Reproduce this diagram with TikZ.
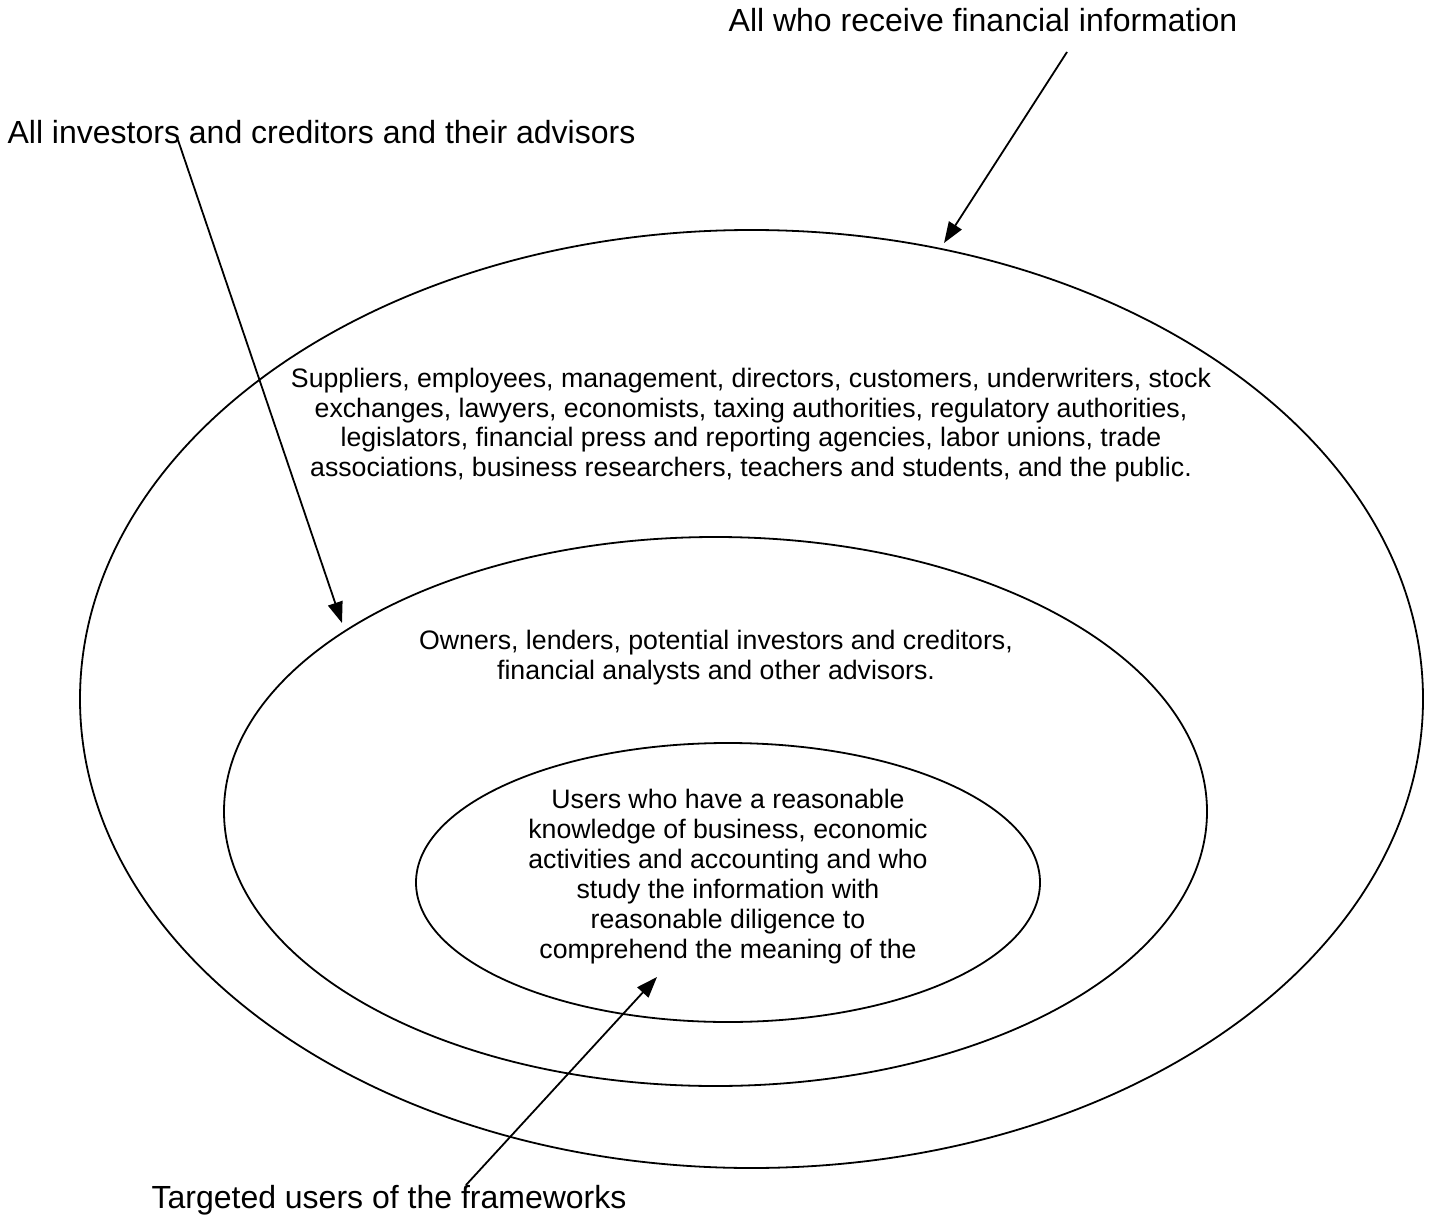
\documentclass[tikz,border=0pt]{standalone}
\usepackage{fontspec}
\setmainfont{Liberation Sans}
\usetikzlibrary{arrows.meta,shapes.geometric}
\begin{document}
\begin{tikzpicture}[x=1pt,y=-1pt,
  ring/.style={draw, ellipse, line width=1.8pt, inner sep=0pt},
  bodytext/.style={align=center, font=\fontsize{26.7}{29.5}\selectfont, inner sep=0pt},
  labeltext/.style={font=\fontsize{32}{38}\selectfont, inner sep=0pt, anchor=base},
  pointer/.style={draw, line width=1.8pt, -{Triangle[length=21pt,width=15pt]}}]
\useasboundingbox (0,0) rectangle (1429,1222);
\node[ring, minimum width=1343pt, minimum height=938pt] (outer) at (751.5,699) {};
\node[ring, minimum width=983pt, minimum height=549pt] (middle) at (715.5,811.5) {};
\node[ring, minimum width=624pt, minimum height=279pt] (inner) at (728,882.5) {};

\node[bodytext] (outertext) at (751,425) {Suppliers, employees, management, directors, customers, underwriters, stock\\
exchanges, lawyers, economists, taxing authorities, regulatory authorities,\\
legislators, financial press and reporting agencies, labor unions, trade\\
associations, business researchers, teachers and students, and the public.};
\node[bodytext] (middletext) at (716,657.5) {Owners, lenders, potential investors and creditors,\\
financial analysts and other advisors.};
\node[bodytext, font=\fontsize{26.7}{30}\selectfont] (innertext) at (728,877) {Users who have a reasonable\\
knowledge of business, economic\\
activities and accounting and who\\
study the information with\\
reasonable diligence to\\
comprehend the meaning of the};

\node[labeltext] (lblall) at (983,32) {All who receive financial information};
\node[labeltext] (lblinv) at (321.5,144) {All investors and creditors and their advisors};
\node[labeltext] (lbltgt) at (389,1208) {Targeted users of the frameworks};

\coordinate (a1s) at (1067,52);
\coordinate (a1e) at (944,243);
\coordinate (a2s) at (178,140);
\coordinate (a2e) at (342,623);
\coordinate (a3s) at (466,1185);
\coordinate (a3e) at (657,977);
\draw[pointer] (a1s) -- (a1e);
\draw[pointer] (a2s) -- (a2e);
\draw[pointer] (a3s) -- (a3e);
\end{tikzpicture}
\end{document}
